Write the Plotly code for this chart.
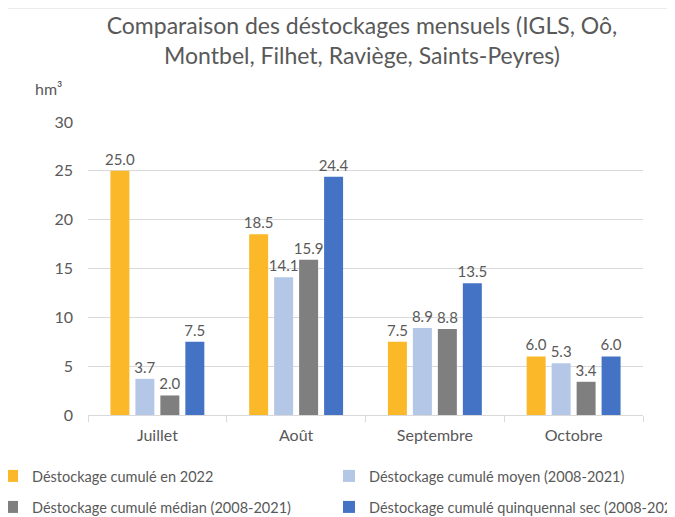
import plotly.graph_objects as go

categories = ["Juillet", "Août", "Septembre", "Octobre"]
series_names = [
    "Déstockage cumulé en 2022",
    "Déstockage cumulé moyen (2008-2021)",
    "Déstockage cumulé médian (2008-2021)",
    "Déstockage cumulé quinquennal sec (2008-2021)",
]
v2022 = [25.0, 18.5, 7.5, 6.0]
vmoyen = [3.7, 14.1, 8.9, 5.3]
vmedian = [2.0, 15.9, 8.8, 3.4]
vquinq = [7.5, 24.4, 13.5, 6.0]
colors = ["#FBB92A", "#B4C7E7", "#7F7F7F", "#4472C4"]
y_ticks = [0, 5, 10, 15, 20, 25, 30]

FONT = "Lato, 'Open Sans', sans-serif"
TXT = "#595959"

# page has an 8px offset: figure pixel = page pixel - 8
W, H = 667, 509
L, R, T, B = 80, 32, 114, 102
PW, PH = W - L - R, H - T - B


def px_x(page_x):
    return (page_x - 8 - L) / PW


def px_y(page_y):
    return (H - B - (page_y - 8)) / PH


fig = go.Figure()
legends = ["legend", "legend2", "legend3", "legend4"]
for name, vals, col, lg in zip(series_names, [v2022, vmoyen, vmedian, vquinq], colors, legends):
    fig.add_trace(go.Bar(
        x=categories, y=vals, name=name, marker_color=col,
        marker_line_width=0,
        texttemplate="%{y:.1f}", textposition="outside",
        textfont=dict(size=15, color=TXT, family=FONT),
        constraintext="none",
        cliponaxis=False, legend=lg, showlegend=True,
    ))

# legend box left edges chosen so the swatches/text sit near the reference's
leg_pos = {"legend": (-8, 476), "legend2": (329, 476), "legend3": (-8, 507), "legend4": (329, 507)}
leg_layout = {}
for k, (lx, ly) in leg_pos.items():
    leg_layout[k] = dict(
        x=px_x(lx), xanchor="left", y=px_y(ly), yanchor="middle",
        font=dict(size=14.5, color=TXT, family=FONT), itemwidth=30,
        bgcolor="rgba(0,0,0,0)", borderwidth=0, visible=True,
    )

fig.update_layout(
    width=W, height=H,
    margin=dict(l=L, r=R, t=T, b=B, autoexpand=False),
    paper_bgcolor="white", plot_bgcolor="white",
    font=dict(family=FONT, color=TXT),
    showlegend=True,
    barmode="group", bargap=0.28, bargroupgap=0.24,
    title=dict(
        text="Comparaison des déstockages mensuels (IGLS, Oô,<br>Montbel, Filhet, Raviège, Saints-Peyres)",
        x=(362 - 8) / W, xref="container", xanchor="center",
        y=1 - 26 / H, yref="container", yanchor="top",
        font=dict(size=23, color=TXT, family=FONT),
    ),
    yaxis=dict(
        range=[0, 30], tickvals=y_ticks, showgrid=True, gridcolor="#D9D9D9",
        gridwidth=1, zeroline=False, showline=False,
        tickfont=dict(size=16, color=TXT, family=FONT), ticklabelstandoff=14,
    ),
    xaxis=dict(
        showline=True, linecolor="#D9D9D9", linewidth=1,
        ticks="outside", tickson="boundaries", ticklen=6, tickcolor="#D9D9D9",
        tickfont=dict(size=16, color=TXT, family=FONT), ticklabelstandoff=6,
    ),
    annotations=[dict(
        text="hm³", xref="paper", yref="paper", x=px_x(64), y=px_y(88),
        xanchor="right", yanchor="middle", showarrow=False,
        font=dict(size=16, color=TXT, family=FONT),
    )],
    shapes=[dict(
        type="rect", xref="paper", yref="paper",
        x0=px_x(7), x1=px_x(700), y0=px_y(540), y1=px_y(8),
        line=dict(color="#D9D9D9", width=1),
    )],
    **leg_layout,
)

fig.write_html("out.html")
